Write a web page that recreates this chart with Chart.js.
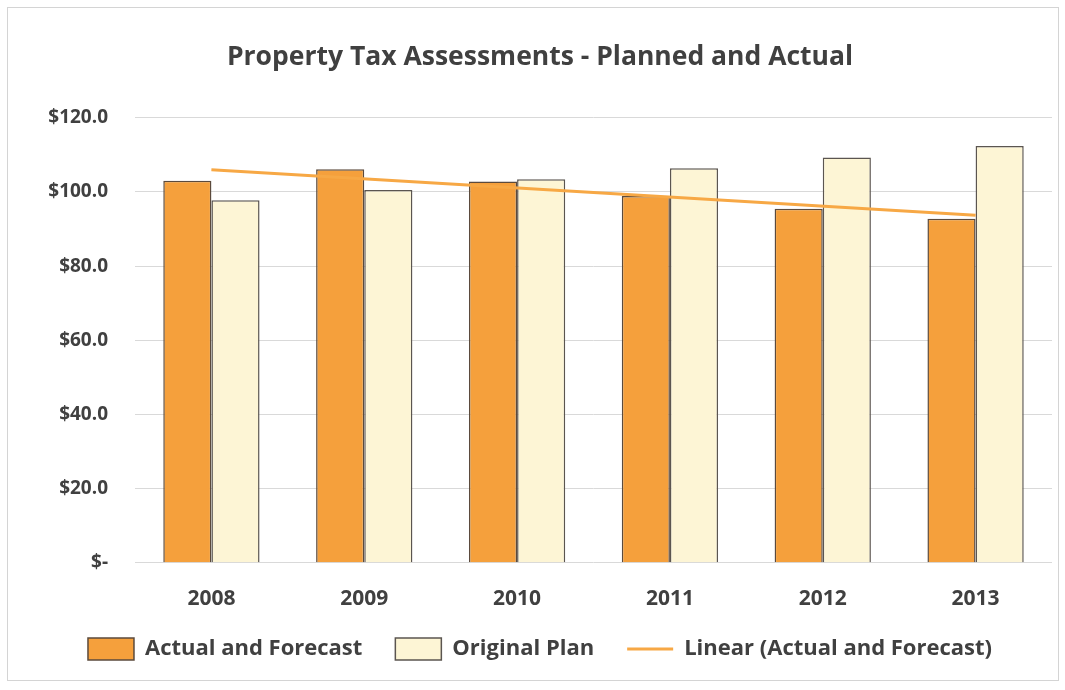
<!DOCTYPE html>
<html>
<head>
<meta charset="utf-8">
<script src="https://cdn.jsdelivr.net/npm/chart.js@4"></script>
<style>
  body { margin: 0; background: #fff; }
  #box { position: absolute; left: 7px; top: 7px; width: 1050px; height: 672px; border: 1px solid #d4d4d4; }
</style>
</head>
<body>
<div id="box"><canvas id="taxChart"></canvas></div>
<script>
const years = ['2008', '2009', '2010', '2011', '2012', '2013'];
const actualForecast = [103.0, 106.1, 102.8, 98.9, 95.5, 92.8];
const originalPlan = [97.8, 100.5, 103.4, 106.4, 109.3, 112.4];
// trend line at its two ends
const linearTrend = [106.0, null, null, null, null, 93.7];

const textColor = '#404040';
Chart.defaults.font.family = "'Open Sans', sans-serif";
Chart.defaults.font.weight = 'bold';
Chart.defaults.color = textColor;

// wide gaps between legend items without the tall legend box that padding gives
const extraPad = 23;
const legendSpacing = {
    id: 'legendSpacing',
    afterInit(chart) {
        const legend = chart.legend;
        const fit = legend.fit;
        const draw = legend.draw;
        legend.fit = function () {
            fit.call(this);
            this.height -= extraPad;
        };
        legend.draw = function () {
            const top = this.top;
            this.top -= extraPad;
            draw.call(this);
            this.top = top;
        };
    }
};

const ctx = document.getElementById('taxChart').getContext('2d');
new Chart(ctx, {
    type: 'bar',
    data: {
        labels: years,
        datasets: [{
            label: 'Actual and Forecast',
            data: actualForecast,
            backgroundColor: '#f5a03c',
            borderColor: '#5b4a3c',
            borderWidth: 1.5,
            pointStyle: 'rect',
            order: 2
        }, {
            label: 'Original Plan',
            data: originalPlan,
            backgroundColor: '#fdf5d5',
            borderColor: '#5b5550',
            borderWidth: 1.5,
            pointStyle: 'rect',
            order: 3
        }, {
            type: 'line',
            label: 'Linear (Actual and Forecast)',
            data: linearTrend,
            borderColor: '#f7a845',
            backgroundColor: '#f7a845',
            borderWidth: 3,
            pointRadius: 0,
            pointStyle: 'line',
            spanGaps: true,
            order: 1
        }]
    },
    plugins: [legendSpacing],
    options: {
        responsive: true,
        maintainAspectRatio: false,
        animation: false,
        categoryPercentage: 0.63,
        barPercentage: 1.0,
        layout: { padding: { left: 20, right: 6, top: 0, bottom: 10 } },
        plugins: {
            title: {
                display: true,
                text: 'Property Tax Assessments - Planned and Actual',
                font: { size: 26.5, weight: 'bold' },
                color: textColor,
                padding: { top: 34, bottom: 44 }
            },
            legend: {
                position: 'bottom',
                labels: {
                    usePointStyle: true,
                    pointStyleWidth: 46,
                    boxHeight: 25,
                    font: { size: 22 },
                    padding: 33,
                    sort: (a, b) => a.datasetIndex - b.datasetIndex
                }
            },
            tooltip: { enabled: false }
        },
        scales: {
            x: {
                grid: { display: false },
                border: { display: false },
                ticks: { font: { size: 21 }, padding: 16 }
            },
            y: {
                min: 0,
                max: 120,
                grid: { color: '#d9d9d9', drawTicks: false },
                border: { display: false },
                afterFit: (scale) => { scale.width = 107; },
                ticks: {
                    stepSize: 20,
                    font: { size: 19 },
                    padding: 27,
                    callback: (v) => v === 0 ? '$-' : '$' + v.toFixed(1)
                }
            }
        }
    }
});
</script>
</body>
</html>
